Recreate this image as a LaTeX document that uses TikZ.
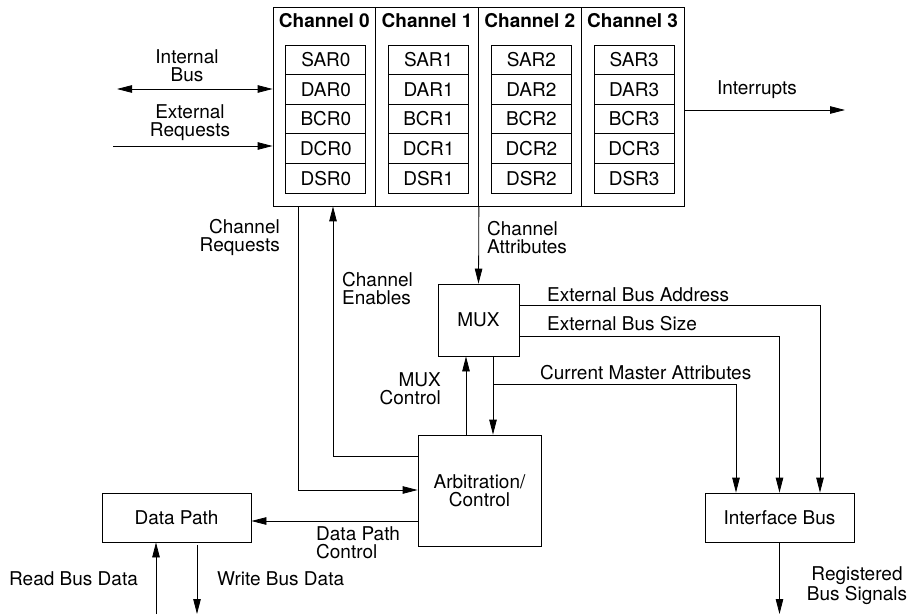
\documentclass[tikz,border=0pt]{standalone}
\usepackage{fontspec}
\setmainfont{TeX Gyre Heros}
\usetikzlibrary{arrows.meta}
\begin{document}
\begin{tikzpicture}[x=1pt,y=-1pt,
  every node/.style={font=\fontsize{19}{18}\selectfont},
  box/.style={draw, line width=0.8pt, inner sep=0pt},
  reg/.style={box, minimum width=80pt, minimum height=29.6pt},
  lbl/.style={inner sep=0pt},
  conn/.style={line width=0.8pt},
  arr/.style={conn, -{Triangle[length=15pt,width=7.5pt]}},
  darr/.style={conn, {Triangle[length=15pt,width=7.5pt]}-{Triangle[length=15pt,width=7.5pt]}}]
\useasboundingbox (0,0) rectangle (911,615);

% channel blocks
\foreach \i in {0,...,3} {
  \pgfmathsetmacro\cx{324.375+102.75*\i}
  \node[box, minimum width=102.75pt, minimum height=199pt] (ch\i) at (\cx,106.5) {};
  \node[lbl, font=\fontsize{19}{18}\selectfont\bfseries] (t\i) at (\cx,21) {Channel \i};
  \foreach [count=\j from 0] \r in {SAR,DAR,BCR,DCR,DSR} {
    \node[reg] (\r\i) at (\cx+1.5, 59.8+29.6*\j) {\r\i};
  }
}

% blocks
\node[box, minimum width=81pt, minimum height=72pt] (mux) at (478.5,320) {MUX};
\node[box, minimum width=123pt, minimum height=111pt, align=center] (arb) at (479.5,490.5) {Arbitration/\\Control};
\node[box, minimum width=149pt, minimum height=49pt] (dp) at (176.5,517.5) {Data Path};
\node[box, minimum width=149pt, minimum height=49pt] (ifb) at (779.5,517.5) {Interface Bus};

% free ends / bend points
\coordinate (ibL) at (117,89);
\coordinate (erL) at (113,146);
\coordinate (intR) at (845,110);
\coordinate (crx) at (298,490);
\coordinate (cex) at (333,456);
\coordinate (mcx) at (466,0);
\coordinate (ax) at (493,0);
\coordinate (cmaS) at (493,384);
\coordinate (cmaT) at (736,384);
\coordinate (eba) at (820,305);
\coordinate (ebs) at (779.5,336);
\coordinate (rbs) at (779.5,614);
\coordinate (dpc) at (0,521);
\coordinate (rd) at (156,614);
\coordinate (wr) at (197,614);

% connectors
\draw[darr] (ibL) -- (ibL -| ch0.west);
\draw[arr] (erL) -- (erL -| ch0.west);
\draw[arr] (intR -| ch3.east) -- (intR);
\draw[arr] (crx |- ch0.south) -- (crx) -- (crx -| arb.west);
\draw[arr] (cex -| arb.west) -- (cex) -- (cex |- ch0.south);
\draw[arr] (ch1.south east) -- (mux.north);
\draw[arr] (mcx |- arb.north) -- (mcx |- mux.south);
\draw[arr] (ax |- mux.south) -- (ax |- arb.north);
\draw[arr] (cmaS) -- (cmaT) -- (cmaT |- ifb.north);
\draw[arr] (eba -| mux.east) -- (eba) -- (eba |- ifb.north);
\draw[arr] (ebs -| mux.east) -- (ebs) -- (ifb.north);
\draw[arr] (ifb.south) -- (rbs);
\draw[arr] (dpc -| arb.west) -- (dpc -| dp.east);
\draw[arr] (rd) -- (rd |- dp.south);
\draw[arr] ([yshift=-3pt]wr |- dp.south) -- (wr);

% labels
\node[lbl, align=center] (l1) at (187,66) {Internal\\Bus};
\node[lbl, align=center] (l2) at (190,123) {External\\Requests};
\node[lbl] (l3) at (757,90) {Interrupts};
\node[lbl, align=right, anchor=east] (l4) at (280,237.5) {Channel\\Requests};
\node[lbl, align=left, anchor=west] (l5) at (342,288.5) {Channel\\Enables};
\node[lbl, align=left, anchor=west] (l6) at (487,237.5) {Channel\\Attributes};
\node[lbl, align=right, anchor=east] (l7) at (441,388.5) {MUX\\Control};
\node[lbl, anchor=west] (l8) at (547,295) {External Bus Address};
\node[lbl, anchor=west] (l9) at (547,324) {External Bus Size};
\node[lbl, anchor=west] (l10) at (540,373) {Current Master Attributes};
\node[lbl, align=center] (l11) at (857,585.5) {Registered\\Bus Signals};
\node[lbl, align=left, anchor=west] (l12) at (316,543) {Data Path\\Control};
\node[lbl, anchor=west] (l13) at (9,579) {Read Bus Data};
\node[lbl, anchor=west] (l14) at (217,579) {Write Bus Data};
\end{tikzpicture}
\end{document}
